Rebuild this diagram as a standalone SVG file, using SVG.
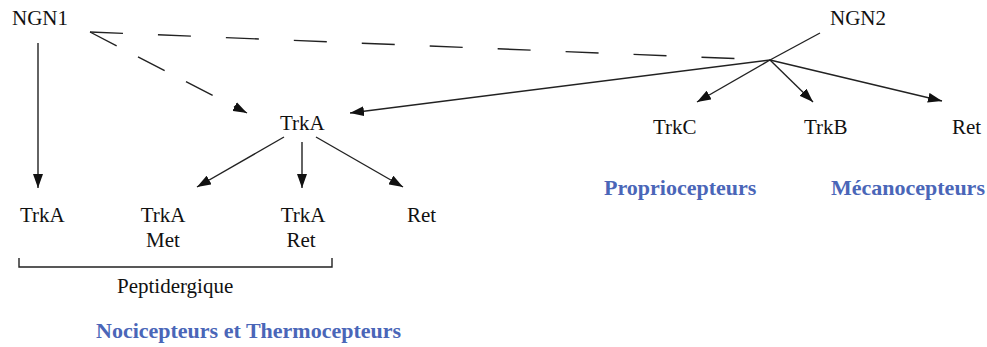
<svg xmlns="http://www.w3.org/2000/svg" width="987" height="347" viewBox="0 0 987 347">
<style>
text{font-family:"Liberation Serif","Times New Roman",serif;font-size:21px;fill:#111}
.c{text-anchor:middle}
.b{font-weight:bold;fill:#4a66b8;font-size:22px}
.l{stroke:#222;stroke-width:1.4;fill:none}
.d{stroke-dasharray:30 24}
.dl{stroke-dasharray:33 35}
</style>
<defs>
<marker id="a" viewBox="0 0 14 10" refX="14" refY="5" markerWidth="14" markerHeight="10" markerUnits="userSpaceOnUse" orient="auto">
<path d="M0,0 L14,5 L0,10 Z" fill="#111"/>
</marker>
</defs>
<rect width="987" height="347" fill="#fff"/>
<g id="connectors">
<line class="l" x1="38" y1="43" x2="38" y2="188" marker-end="url(#a)"/>
<line class="l d" x1="90" y1="32" x2="247" y2="113" marker-end="url(#a)"/>
<line class="l dl" x1="90" y1="32" x2="770" y2="60"/>
<line class="l" x1="820" y1="33" x2="770" y2="60"/>
<line class="l" x1="770" y1="60" x2="350" y2="113" marker-end="url(#a)"/>
<line class="l" x1="770" y1="60" x2="697" y2="102" marker-end="url(#a)"/>
<line class="l" x1="770" y1="60" x2="813" y2="102" marker-end="url(#a)"/>
<line class="l" x1="770" y1="60" x2="942" y2="101" marker-end="url(#a)"/>
<line class="l" x1="284" y1="137" x2="197" y2="187" marker-end="url(#a)"/>
<line class="l" x1="302" y1="142" x2="302" y2="188" marker-end="url(#a)"/>
<line class="l" x1="316" y1="137" x2="403" y2="187" marker-end="url(#a)"/>
<path class="l" d="M19,258 V267 H332 V258"/>
</g>
<g id="ngn1"><text x="12" y="25">NGN1</text></g>
<g id="ngn2"><text x="830" y="25">NGN2</text></g>
<g id="trka-mid"><text x="280" y="130">TrkA</text></g>
<g id="trkc"><text x="653" y="134">TrkC</text></g>
<g id="trkb"><text x="804" y="134">TrkB</text></g>
<g id="ret-right"><text x="952" y="134">Ret</text></g>
<g id="trka-left"><text x="20" y="222">TrkA</text></g>
<g id="trka-met"><text x="163" y="222" class="c">TrkA</text><text x="163" y="247" class="c">Met</text></g>
<g id="trka-ret"><text x="303" y="222" class="c">TrkA</text><text x="301" y="247" class="c">Ret</text></g>
<g id="ret-mid"><text x="407" y="222">Ret</text></g>
<g id="peptidergique"><text x="117" y="293">Peptidergique</text></g>
<g id="labels">
<text class="b" x="96" y="338">Nocicepteurs et Thermocepteurs</text>
<text class="b" x="604" y="195">Propriocepteurs</text>
<text class="b" x="831" y="195">Mécanocepteurs</text>
</g>
</svg>
